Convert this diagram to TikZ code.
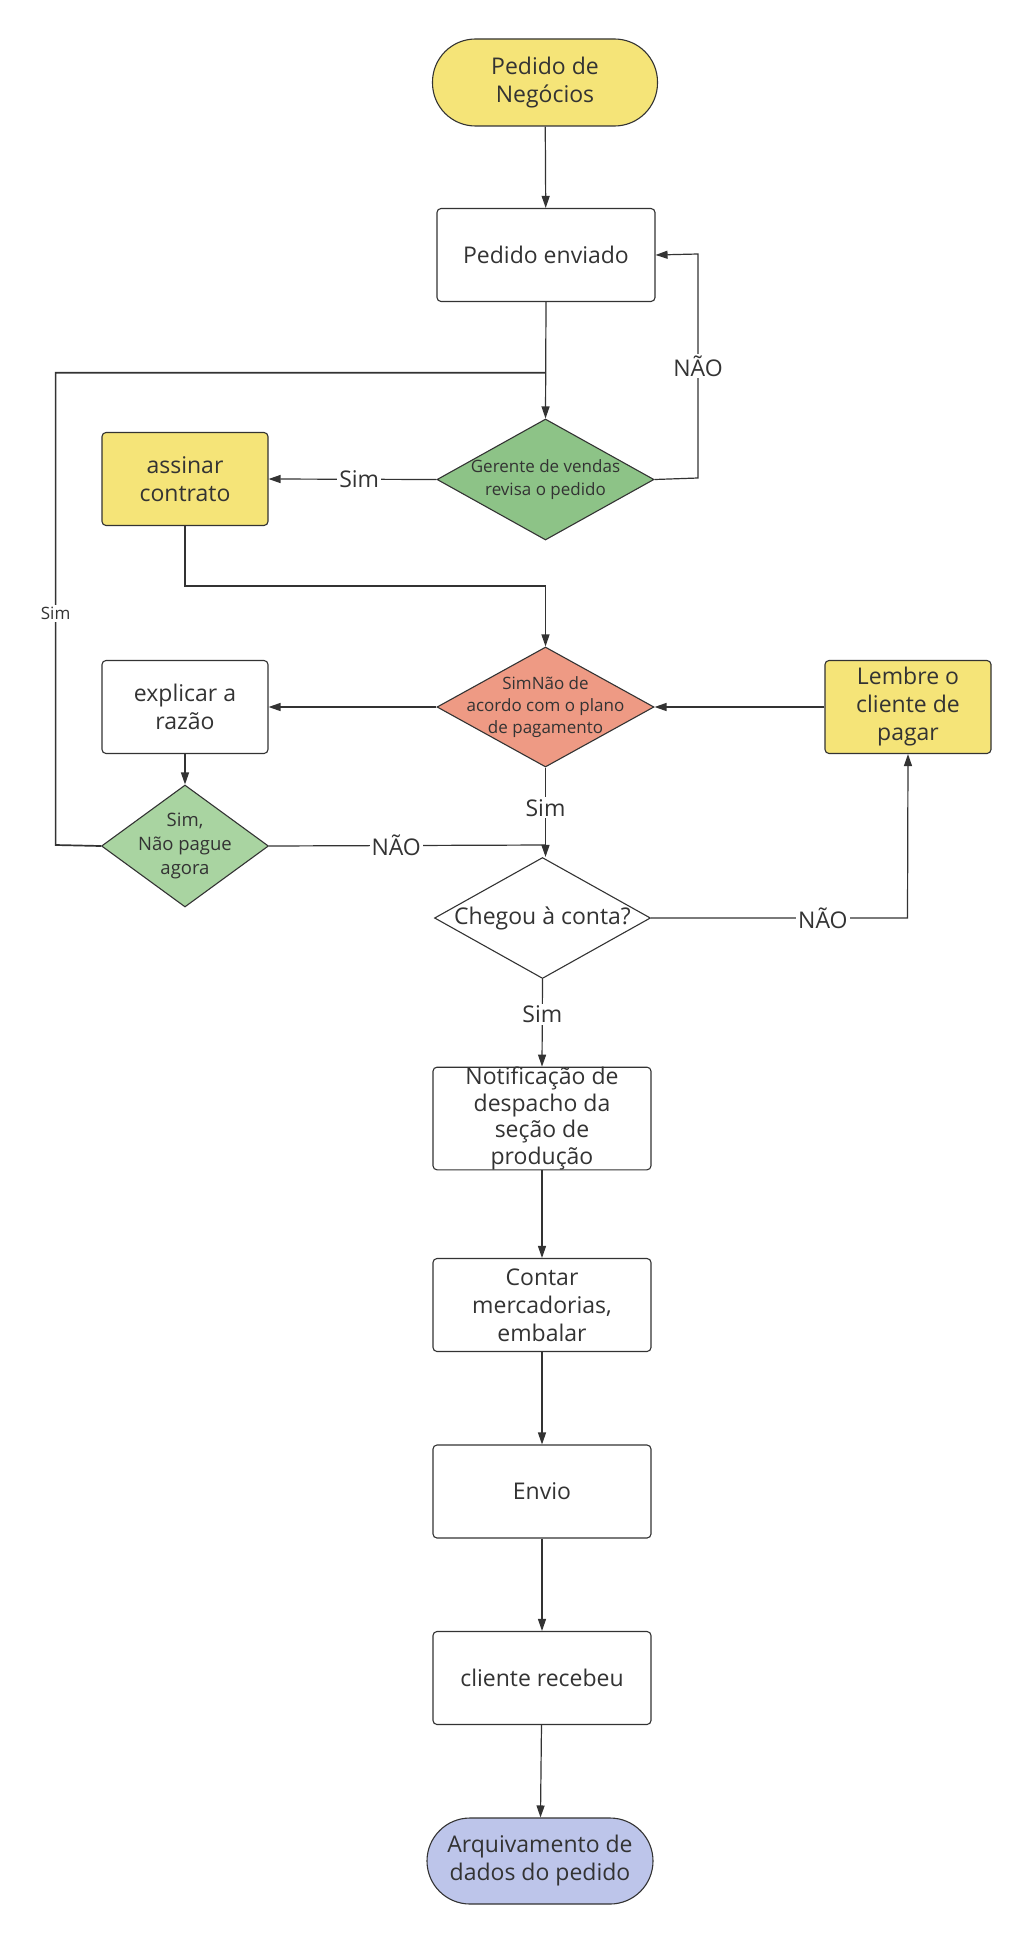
\documentclass[tikz,border=0pt]{standalone}
\usepackage{fontspec}
\setmainfont{Open Sans}
\usetikzlibrary{shapes.geometric,arrows.meta}
\definecolor{ln}{HTML}{333333}
\definecolor{yel}{HTML}{F5E478}
\definecolor{grn}{HTML}{8DC387}
\definecolor{sal}{HTML}{EE9A84}
\definecolor{lgrn}{HTML}{A9D4A1}
\definecolor{lav}{HTML}{BDC5EA}
\tikzset{
  x=1pt,y=-1pt,
  every node/.style={text=ln},
  mainf/.style={font=\fontsize{23}{28}\selectfont},
  smallf/.style={font=\fontsize{17}{23}\selectfont},
  term/.style={draw=ln,line width=1.1pt,rounded corners=43pt,minimum width=225pt,minimum height=87pt,align=center,inner sep=0pt,mainf},
  boxn/.style={draw=ln,line width=1.1pt,rounded corners=4pt,minimum width=218pt,minimum height=93pt,align=center,inner sep=0pt,mainf,fill=white},
  sbox/.style={boxn,minimum width=166pt},
  dia/.style={draw=ln,line width=1.1pt,diamond,inner sep=0pt},
  dtext/.style={align=center,inner sep=0pt,smallf},
  conn/.style={draw=ln,line width=1.2pt,-{Triangle[length=12pt,width=8pt]}},
  plain/.style={draw=ln,line width=1.2pt},
  lab/.style={fill=white,inner sep=2pt,mainf},
  slab/.style={fill=white,inner sep=2pt,smallf}
}
\begin{document}
\begin{tikzpicture}
\useasboundingbox[fill=white] (0,0) rectangle (1027,1940);
% nodes
\node[term,fill=yel] (start) at (545,82.5) {Pedido de\\Negócios};
\node[boxn] (sent) at (546,255) {Pedido enviado};
\node[dia,fill=grn,minimum width=217pt,minimum height=121pt] (rev) at (545.5,479.5) {};
\node[dtext] (revT) at (rev) {Gerente de vendas\\revisa o pedido};
\node[sbox,fill=yel] (assin) at (185,479) {assinar\\contrato};
\node[dia,fill=sal,minimum width=217pt,minimum height=120pt] (pay) at (545.5,707) {};
\node[dtext,font=\fontsize{17}{22}\selectfont] (payT) at (pay) {SimNão de\\acordo com o plano\\de pagamento};
\node[sbox] (expl) at (185,707) {explicar a\\razão};
\node[sbox,fill=yel] (lem) at (908,707) {Lembre o\\cliente de\\pagar};
\node[dia,fill=lgrn,minimum width=167pt,minimum height=122pt] (nop) at (185,846) {};
\node[dtext,font=\fontsize{18.5}{24}\selectfont] (nopT) at (nop) {Sim,\\Não pague\\agora};
\node[dia,fill=white,minimum width=216pt,minimum height=121pt] (chk) at (542.5,918) {};
\node[mainf,inner sep=0pt] (chkT) at (chk) {Chegou à conta?};
\node[boxn,font=\fontsize{23}{26.5}\selectfont] (notif) at (542,1118.5) {Notificação de\\despacho da\\seção de\\produção};
\node[boxn] (count) at (542,1305) {Contar\\mercadorias,\\embalar};
\node[boxn] (env) at (542,1491.5) {Envio};
\node[boxn] (rec) at (542,1678) {cliente recebeu};
\node[term,fill=lav,minimum width=226pt,minimum height=86pt] (fin) at (540,1861) {Arquivamento de\\dados do pedido};
% coordinates
\coordinate (jn) at (545.5,372.7);
\coordinate (lpl) at (55.6,372.7);
\coordinate (lpb) at (55.6,845);
\coordinate (nr) at (698,478);
\coordinate (nt) at (698,254);
\coordinate (am) at (185,586);
\coordinate (am2) at (545.5,586);
\coordinate (jn2) at (545.5,845);
\coordinate (cr) at (907.5,918);
% connectors
\draw[conn] (start) -- (sent);
\draw[conn] (sent.south) -- (rev.north);
\draw[plain,line width=1.7pt] (nop.west) -- (lpb) -- node[slab,pos=0.49]{Sim} (lpl) -- (jn);
\draw[conn] (rev.west) -- node[lab,pos=0.46]{Sim} (assin.east);
\draw[conn] (rev.east) -- (nr) -- node[lab,pos=0.5]{NÃO} (nt) -- (sent.east);
\draw[conn] (assin.south) -- (am) -- (am2) -- (pay.north);
\draw[conn] (pay.west) -- (expl.east);
\draw[conn] (lem.west) -- (pay.east);
\draw[conn] (expl.south) -- (nop.north);
\draw[conn] (pay.south) -- node[lab,pos=0.45]{Sim} (pay.south |- chk.north);
\draw[plain] (nop.east) -- node[lab,pos=0.46]{NÃO} (jn2);
\draw[conn] (chk.east) -- node[lab,pos=0.67]{NÃO} (cr) -- (lem.south);
\draw[conn] (chk.south) -- node[lab,pos=0.4]{Sim} (notif.north);
\draw[conn] (notif) -- (count);
\draw[conn] (count) -- (env);
\draw[conn] (env) -- (rec);
\draw[conn] (rec) -- (fin);
\end{tikzpicture}
\end{document}
